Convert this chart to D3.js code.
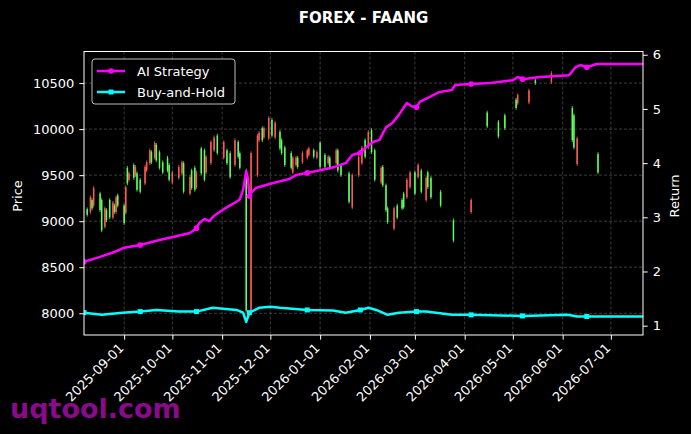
<!DOCTYPE html>
<html>
<head>
<meta charset="utf-8">
<script src="https://cdn.jsdelivr.net/npm/d3@7"></script>
<style>
  body { margin: 0; background: #000; }
  text { font-family: "DejaVu Sans", sans-serif; }
</style>
</head>
<body>
<svg id="chart" width="691" height="434"></svg>
<script>
// all days are offsets from the first date of the series
const startDate = Date.UTC(2025, 7, 7);
const lastDay = 348;

const dateTicks = ['2025-09-01', '2025-10-01', '2025-11-01', '2025-12-01', '2026-01-01', '2026-02-01',
  '2026-03-01', '2026-04-01', '2026-05-01', '2026-06-01', '2026-07-01'];
const priceTicks = [8000, 8500, 9000, 9500, 10000, 10500];
const returnTicks = [1, 2, 3, 4, 5, 6];

// candles
const candleDays = [2,4,5,6,10,11,13,14,16,18,19,20,21,25,26,27,28,31,32,33,35,38,39,41,42,44,45,47,49,52,53,55,59,61,62,66,67,69,70,73,75,76,79,81,83,87,89,91,94,96,97,101,104,108,109,111,112,115,117,119,122,123,125,129,130,132,133,136,139,140,143,145,147,150,152,153,157,158,160,165,167,171,173,175,177,179,181,185,186,188,189,193,195,198,199,201,203,206,208,210,213,214,216,222,230,241,251,258,262,269,270,277,281,291,304,305,307,320];
const opens = [9070,9260,9140,9360,9120, 8900,9140,9010,9040,9200, 9100,9260,9170,8980,9370, 9410,9520,9470,9590,9340,
  9320,9590,9640,9770,9640, 9850,9660,9580,9530,9550, 9450,9530,9590,9640,9320, 9480,9360,9340,9530,9520,
  9450,9700,9860,9910,9740, 9860,9630,9480,9880,9700, 9580,8030,9740,9930,9960, 9880,10010,10120,9930,10070,
  9790,9740,9610,9580,9690, 9690,9590,9740,9770,9790, 9700,9750,9590,9590,9700, 9580,9770,9550,9500,9210,
  9500,9700,9800,9700,9970, 9750,9450,9580,9390,9120, 8990,9140,9040,9140,9150, 9450,9530,9300,9610,9320,
  9470,9370,9260,9170,8790, 9230,10030,9920,10010,10230, 10370,10420,10500,10610,9880, 9800,9900,9530];
const highs = [9150,9280,9250,9380,9320, 9250,9160,9140,9250,9220, 9190,9280,9300,9190,9390, 9600,9540,9630,9610,9540,
  9470,9610,9660,9790,9770, 9870,9850,9770,9660,9710, 9630,9550,9610,9660,9650, 9500,9570,9600,9550,9810,
  9790,9720,9880,9930,9950, 9880,9790,9760,9900,9880, 9760,9570,9760,9950,9980, 10030,10030,10140,10120,10090,
  9990,9900,9820,9760,9710, 9710,9710,9760,9790,9810, 9790,9770,9870,9740,9720, 9710,9790,9790,9630,9540,
  9520,9720,9820,9900,9990, 10010,9790,9600,9610,9410, 9160,9160,9190,9250,9320, 9470,9550,9550,9630,9570,
  9490,9550,9490,9340,9030, 9250,10200,10100,10170,10340, 10390,10440,10550,10630,10250, 10170,9920,9750];
const lows = [9050,9080,9120,9150,9100, 8880,8920,8990,9020,9020, 9080,9080,9150,8960,9070, 9390,9430,9450,9480,9320,
  9300,9390,9530,9610,9620, 9670,9640,9560,9510,9530, 9430,9400,9450,9500,9300, 9280,9340,9320,9350,9500,
  9430,9510,9610,9750,9720, 9670,9610,9460,9590,9680, 9560,8010,8010,9480,9860, 9860,9890,9880,9910,9890,
  9770,9720,9590,9560,9510, 9590,9570,9620,9670,9700, 9680,9670,9570,9570,9610, 9560,9610,9530,9480,9190,
  9130,9480,9610,9680,9780, 9730,9430,9400,9370,9100, 8970,8900,9020,9120,9130, 9240,9350,9280,9460,9300,
  9210,9350,9240,9150,8770, 9080,10010,9900,9990,10210, 10260,10270,10480,10490,9860, 9780,9600,9510];
const closes = [9130,9100,9230,9170,9300, 9230,8940,9120,9230,9040, 9170,9100,9280,9170,9090, 9580,9450,9610,9500,9520,
  9450,9410,9550,9630,9750, 9690,9830,9750,9640,9690, 9610,9420,9470,9520,9630, 9300,9550,9580,9370,9790,
  9770,9530,9630,9770,9930, 9690,9770,9740,9610,9860, 9740,9550,8030,9500,9880, 10010,9910,9900,10100,9910,
  9970,9880,9800,9740,9530, 9610,9690,9640,9690,9720, 9770,9690,9850,9720,9630, 9690,9630,9770,9610,9520,
  9150,9500,9630,9880,9800, 9990,9770,9420,9590,9390, 9140,8920,9170,9230,9300, 9260,9370,9530,9480,9550,
  9230,9530,9470,9320,9010, 9100,10180,10080,10150,10320, 10280,10290,10530,10510,10230, 10150,9620,9730];

// cumulative returns
const aiDays = [0,10,19,25,35,47,56,66,70,72,75,78,81,87,94,97,99,101,102,103,104,107,116,128,132,139,147,156,163,167,172,176,180,184,188,192,196,201,204,207,209,215,221,229,231,241,253,267,270,273,284,302,306,309,313,319,348];
const aiReturn = [2.18,2.27,2.36,2.44,2.49,2.58,2.64,2.71,2.80,2.90,2.97,2.93,3.03,3.15,3.27,3.33,3.50,3.85,3.73,3.39,3.45,3.54,3.62,3.71,3.78,3.82,3.87,3.93,4.00,4.15,4.19,4.30,4.39,4.43,4.66,4.74,4.89,5.11,5.05,5.03,5.13,5.22,5.31,5.35,5.44,5.46,5.48,5.53,5.59,5.55,5.59,5.62,5.77,5.81,5.77,5.83,5.83];
const bhDays = [0,11,24,35,45,59,70,80,95,99,101,103,109,116,122,139,155,163,172,177,182,189,196,207,213,229,241,273,301,307,313,321,348];
const bhReturn = [1.24,1.20,1.24,1.26,1.29,1.26,1.26,1.33,1.29,1.24,1.07,1.24,1.33,1.35,1.33,1.29,1.28,1.24,1.29,1.33,1.29,1.20,1.24,1.26,1.26,1.20,1.20,1.18,1.20,1.17,1.17,1.17,1.17];
const markerDays = [0,35,70,103,139,172,207,241,273,313];

const upColor = '#5cff5c';
const downColor = '#ff5a50';
const aiColor = '#ff00ff';
const bhColor = '#00ffff';

const margin = { top: 51.5, right: 48, bottom: 99, left: 84 };
const width = 691 - margin.left - margin.right;
const height = 434 - margin.top - margin.bottom;

const dayDate = d => d3.utcDay.offset(new Date(startDate), d);
const parseDate = d3.utcParse('%Y-%m-%d');

const svg = d3.select('#chart');
svg.append('rect').attr('width', 691).attr('height', 434).attr('fill', '#000');

// watermark
svg.append('text')
  .attr('x', 10).attr('y', 418)
  .style('font-size', '27px').style('font-weight', 'bold')
  .attr('fill', '#8b0a8b')
  .text('uqtool.com');

const g = svg.append('g').attr('transform', 'translate(' + margin.left + ',' + margin.top + ')');

const x = d3.scaleTime().domain([dayDate(0), dayDate(lastDay)]).range([0, width]);
const yPrice = d3.scaleLinear().domain([7764, 10843]).range([height, 0]);
const yRet = d3.scaleLinear().domain([0.828, 6.06]).range([height, 0]);

g.append('clipPath').attr('id', 'plot-clip')
  .append('rect').attr('width', width).attr('height', height);

// grid
const grid = g.append('g').attr('stroke', '#555').attr('stroke-width', 0.7).attr('stroke-dasharray', '3,2');
grid.selectAll('.hgrid').data(priceTicks).enter().append('line')
  .attr('x1', 0).attr('x2', width)
  .attr('y1', d => yPrice(d)).attr('y2', d => yPrice(d));
grid.selectAll('.vgrid').data(dateTicks).enter().append('line')
  .attr('y1', 0).attr('y2', height)
  .attr('x1', d => x(parseDate(d))).attr('x2', d => x(parseDate(d)));

const plot = g.append('g').attr('clip-path', 'url(#plot-clip)');

// candles
const candles = candleDays.map((d, i) => ({ date: dayDate(d), o: opens[i], h: highs[i], l: lows[i], c: closes[i] }));
const cg = plot.selectAll('.candle').data(candles).enter().append('g')
  .attr('fill', d => d.c >= d.o ? upColor : downColor)
  .attr('stroke', d => d.c >= d.o ? upColor : downColor);
cg.append('line')
  .attr('x1', d => x(d.date)).attr('x2', d => x(d.date))
  .attr('y1', d => yPrice(d.h)).attr('y2', d => yPrice(d.l))
  .attr('stroke-width', 0.8);
cg.append('rect')
  .attr('stroke', 'none')
  .attr('x', d => x(d.date) - 0.75).attr('width', 1.5)
  .attr('y', d => yPrice(Math.max(d.o, d.c)))
  .attr('height', d => Math.max(1, Math.abs(yPrice(d.o) - yPrice(d.c))));

// return lines
const aiData = aiDays.map((d, i) => ({ day: d, v: aiReturn[i] }));
const bhData = bhDays.map((d, i) => ({ day: d, v: bhReturn[i] }));
const line = d3.line().x(d => x(dayDate(d.day))).y(d => yRet(d.v));

plot.append('path').datum(bhData).attr('d', line)
  .attr('fill', 'none').attr('stroke', bhColor).attr('stroke-width', 2.5).attr('stroke-linejoin', 'round');
plot.append('path').datum(aiData).attr('d', line)
  .attr('fill', 'none').attr('stroke', aiColor).attr('stroke-width', 2.5).attr('stroke-linejoin', 'round');

plot.selectAll('.bhmark').data(bhData.filter(d => markerDays.includes(d.day))).enter().append('rect')
  .attr('x', d => x(dayDate(d.day)) - 2.5).attr('y', d => yRet(d.v) - 2.5)
  .attr('width', 5).attr('height', 5).attr('fill', bhColor);
plot.selectAll('.aimark').data(aiData.filter(d => markerDays.includes(d.day))).enter().append('circle')
  .attr('cx', d => x(dayDate(d.day))).attr('cy', d => yRet(d.v))
  .attr('r', 2.8).attr('fill', aiColor);

// frame
g.append('rect').attr('width', width).attr('height', height)
  .attr('fill', 'none').attr('stroke', '#fff').attr('stroke-width', 1);

// axes
const xAxis = d3.axisBottom(x).tickValues(dateTicks.map(parseDate))
  .tickFormat(d3.utcFormat('%Y-%m-%d')).tickSize(4.7);
const gx = g.append('g').attr('transform', 'translate(0,' + height + ')').call(xAxis);
gx.selectAll('text')
  .style('text-anchor', 'end')
  .attr('y', 0).attr('dy', 0)
  .attr('transform', 'translate(0,14) rotate(-45)');

const gyl = g.append('g').call(d3.axisLeft(yPrice).tickValues(priceTicks)
  .tickFormat(d3.format('d')).tickSize(4.7).tickPadding(5));
const gyr = g.append('g').attr('transform', 'translate(' + width + ',0)')
  .call(d3.axisRight(yRet).tickValues(returnTicks).tickFormat(d3.format('d')).tickSize(4.7).tickPadding(5));

[gx, gyl, gyr].forEach(a => {
  a.select('.domain').remove();
  a.selectAll('line').attr('stroke', '#fff');
  a.selectAll('text').attr('fill', '#fff').style('font-size', '13px')
    .style('font-family', '"DejaVu Sans", sans-serif');
});

// axis titles
svg.append('text').attr('transform', 'translate(22,196) rotate(-90)')
  .attr('text-anchor', 'middle').attr('fill', '#fff').style('font-size', '13px').text('Price');
svg.append('text').attr('transform', 'translate(679,196) rotate(-90)')
  .attr('text-anchor', 'middle').attr('fill', '#fff').style('font-size', '13px').text('Return');

// title
svg.append('text').attr('x', margin.left + width / 2).attr('y', 23)
  .attr('text-anchor', 'middle').attr('fill', '#fff')
  .style('font-size', '15px').style('font-weight', 'bold').text('FOREX - FAANG');

// legend
const legend = svg.append('g').attr('transform', 'translate(92,59)');
legend.append('rect').attr('width', 143).attr('height', 45).attr('rx', 3)
  .attr('fill', '#000').attr('stroke', '#bbb').attr('stroke-width', 1);
const items = [
  { name: 'AI Strategy', color: aiColor, shape: 'circle' },
  { name: 'Buy-and-Hold', color: bhColor, shape: 'square' }
];
const li = legend.selectAll('.item').data(items).enter().append('g')
  .attr('transform', (d, i) => 'translate(0,' + (12 + i * 21) + ')');
li.append('line').attr('x1', 5).attr('x2', 33).attr('stroke', d => d.color).attr('stroke-width', 2.5);
li.filter(d => d.shape === 'circle').append('circle').attr('cx', 19).attr('r', 2.8).attr('fill', d => d.color);
li.filter(d => d.shape === 'square').append('rect').attr('x', 16.5).attr('y', -2.5)
  .attr('width', 5).attr('height', 5).attr('fill', d => d.color);
li.append('text').attr('x', 45).attr('dy', '0.35em').attr('fill', '#fff')
  .style('font-size', '13px').text(d => d.name);
</script>
</body>
</html>
